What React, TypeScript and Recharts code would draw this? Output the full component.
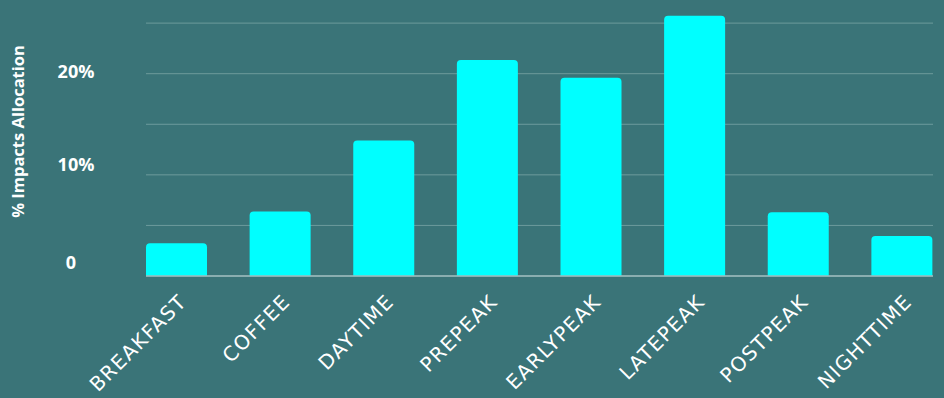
import React from "react";
import { BarChart, Bar, XAxis, YAxis, CartesianGrid } from "recharts";

const categories = ["BREAKFAST", "COFFEE", "DAYTIME", "PREPEAK", "EARLYPEAK", "LATEPEAK", "POSTPEAK", "NIGHTTIME"];
const allocation = [3.24, 6.37, 13.4, 21.36, 19.6, 25.74, 6.3, 3.96];
const yTicks = [0, 5, 10, 15, 20, 25];
const yLabels: Record<number, string> = { 0: "0", 10: "10%", 20: "20%" };
const yLabelShift: Record<number, [number, number]> = { 0: [-5, -14], 10: [0, -11], 20: [0, -3] };
const yTitle = "% Impacts Allocation";

const data = categories.map((c, i) => ({ name: c, value: allocation[i] }));

const BG = "#3a7478";

const YTick = (props: any) => {
  const { x, y, payload } = props;
  const label = yLabels[payload.value];
  if (!label) return null;
  const [dx, dy] = yLabelShift[payload.value] || [0, 0];
  return (
    <text
      x={x - 62 + dx}
      y={y + dy}
      textAnchor="middle"
      dominantBaseline="central"
      fill="#ffffff"
      fontFamily="'Open Sans', sans-serif"
      fontWeight={700}
      fontSize={18}
    >
      {label}
    </text>
  );
};

const XTick = (props: any) => {
  const { x, y, payload } = props;
  return (
    <g transform={`translate(${x + 11},${y + 27})`}>
      <text
        x={0}
        y={0}
        textAnchor="end"
        transform="rotate(-45)"
        fill="#ffffff"
        fontFamily="'DejaVu Sans', sans-serif"
        fontSize={20}
        letterSpacing={1.3}
      >
        {payload.value}
      </text>
    </g>
  );
};

const YTitle = (props: any) => {
  const vb = props.viewBox || { x: 0, y: 0, width: 0, height: 0 };
  const cx = vb.x + 17;
  const cy = vb.y + vb.height / 2 - 13;
  return (
    <text
      x={cx}
      y={cy}
      transform={`rotate(-90, ${cx}, ${cy})`}
      textAnchor="middle"
      dominantBaseline="central"
      fill="#ffffff"
      fontFamily="'Open Sans', sans-serif"
      fontWeight={700}
      fontSize={16.5}
    >
      {yTitle}
    </text>
  );
};

export default function App() {
  return (
    <div style={{ position: "absolute", left: 0, top: 0, width: 944, height: 398, background: BG, overflow: "hidden" }}>
      <BarChart width={944} height={398} data={data} margin={{ top: 13, right: 11, bottom: 0, left: 0 }}>
        <CartesianGrid vertical={false} stroke="#6d9a9c" strokeWidth={1} horizontalValues={yTicks} />
        <XAxis
          dataKey="name"
          height={122}
          padding={{ left: -21, right: -21 }}
          axisLine={{ stroke: "#9dbbbd", strokeWidth: 1.5 }}
          tickLine={false}
          tickSize={0}
          tickMargin={0}
          interval={0}
          tick={<XTick />}
        />
        <YAxis
          width={146}
          domain={[0, 26]}
          ticks={yTicks}
          axisLine={false}
          tickLine={false}
          tick={<YTick />}
          label={{ content: (p: any) => <YTitle {...p} /> }}
        />
        <Bar dataKey="value" fill="#00ffff" barSize={61} radius={[4, 4, 0, 0]} isAnimationActive={false} />
      </BarChart>
    </div>
  );
}
